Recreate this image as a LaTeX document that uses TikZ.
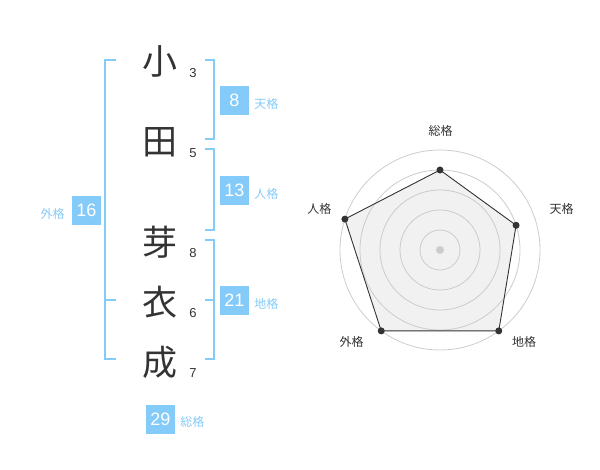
\documentclass[tikz,border=0pt]{standalone}
\usepackage{fontspec}
\setmainfont{Liberation Sans}
\newfontfamily\cjk{Noto Sans CJK JP}
\usepackage{tikz}
\usetikzlibrary{calc, positioning}
\definecolor{kakublue}{HTML}{85CBF9}
\definecolor{inkgray}{HTML}{333333}
\definecolor{ringgray}{HTML}{CCCCCC}
\definecolor{areagray}{HTML}{F1F1F1}
\tikzstyle{kanji} = [font=\cjk\fontsize{35}{35}\selectfont, text=inkgray, inner sep=0pt]
\tikzstyle{kakusu} = [font=\fontsize{13}{13}\selectfont, text=inkgray, inner sep=0pt]
\tikzstyle{numbox} = [rectangle, fill=kakublue, text=white, minimum size=29pt, inner sep=0pt, font=\fontsize{18}{18}\selectfont]
\tikzstyle{kakuname} = [font=\cjk\fontsize{12}{12}\selectfont, text=kakublue, inner sep=0pt]
\tikzstyle{bracket} = [draw=kakublue, line width=2pt]
\tikzstyle{ring} = [draw=ringgray, line width=0.8pt]
\tikzstyle{axis} = [font=\cjk\fontsize{12}{12}\selectfont, text=inkgray, inner sep=0pt]
\tikzstyle{vertex} = [circle, fill=inkgray, inner sep=0pt, minimum size=7pt]

\begin{document}
\begin{tikzpicture}[x=1pt, y=-1pt, node distance=5pt]
	\useasboundingbox (0,0) rectangle (600,470);
	% name and stroke counts
	\node (Ko) [kanji] at (160,61) {小};
	\node (Ta) [kanji] at (160,142) {田};
	\node (Me) [kanji] at (160,242) {芽};
	\node (Koromo) [kanji] at (160,302) {衣};
	\node (Nari) [kanji] at (160,362) {成};
	\node (KoNum) [kakusu] at (193,73) {3};
	\node (TaNum) [kakusu] at (193,153) {5};
	\node (MeNum) [kakusu] at (193,253) {8};
	\node (KoromoNum) [kakusu] at (193,313) {6};
	\node (NariNum) [kakusu] at (193,373) {7};
	
	% brackets
	\draw [bracket] (116,60) -- (105,60) -- (105,359) -- (116,359);
	\draw [bracket] (105,300) -- (116,300);
	\draw [bracket] (205,60) -- (214,60) -- (214,139) -- (205,139);
	\draw [bracket] (205,149) -- (214,149) -- (214,230) -- (205,230);
	\draw [bracket] (205,240) -- (214,240) -- (214,359) -- (205,359);
	\draw [bracket] (205,300) -- (214,300);
	
	% kaku boxes
	\node (Ten) [numbox] at (234.5,100.5) {8};
	\node (TenName) [kakuname, right = of Ten, yshift=-3pt] {天格};
	\node (Jin) [numbox] at (234.5,190.5) {13};
	\node (JinName) [kakuname, right = of Jin, yshift=-3pt] {人格};
	\node (Chi) [numbox] at (234.5,300.5) {21};
	\node (ChiName) [kakuname, right = of Chi, yshift=-3pt] {地格};
	\node (Gai) [numbox] at (86.5,210.5) {16};
	\node (GaiName) [kakuname, left = 7pt of Gai, yshift=-3pt] {外格};
	\node (So) [numbox] at (160.5,419) {29};
	\node (SoName) [kakuname, right = of So, yshift=-3pt] {総格};
	
	% radar chart
	\begin{scope}[shift={(440,250)}, y=1pt]
		\coordinate (Center) at (0,0);
		\coordinate (SoP) at (90:80);
		\coordinate (TenP) at (18:80);
		\coordinate (ChiP) at (-54:100);
		\coordinate (GaiP) at (234:100);
		\coordinate (JinP) at (162:100);
		\fill [areagray] (SoP) -- (TenP) -- (ChiP) -- (GaiP) -- (JinP) -- cycle;
		\draw [ring] (Center) circle (20);
		\draw [ring] (Center) circle (40);
		\draw [ring] (Center) circle (60);
		\draw [ring] (Center) circle (80);
		\draw [ring] (Center) circle (100);
		\fill [ringgray] (Center) circle (4);
		\draw [inkgray, line width=0.9pt] (SoP) -- (TenP) -- (ChiP) -- (GaiP) -- (JinP) -- cycle;
		\node (SoDot) [vertex] at (SoP) {};
		\node (TenDot) [vertex] at (TenP) {};
		\node (ChiDot) [vertex] at (ChiP) {};
		\node (GaiDot) [vertex] at (GaiP) {};
		\node (JinDot) [vertex] at (JinP) {};
		\node (SoAxis) [axis] at (0.7,119.3) {総格};
		\node (TenAxis) [axis] at (121.7,41) {天格};
		\node (ChiAxis) [axis] at (84,-92) {地格};
		\node (GaiAxis) [axis] at (-88.3,-92) {外格};
		\node (JinAxis) [axis] at (-120.7,41) {人格};
	\end{scope}
\end{tikzpicture}
\end{document}
